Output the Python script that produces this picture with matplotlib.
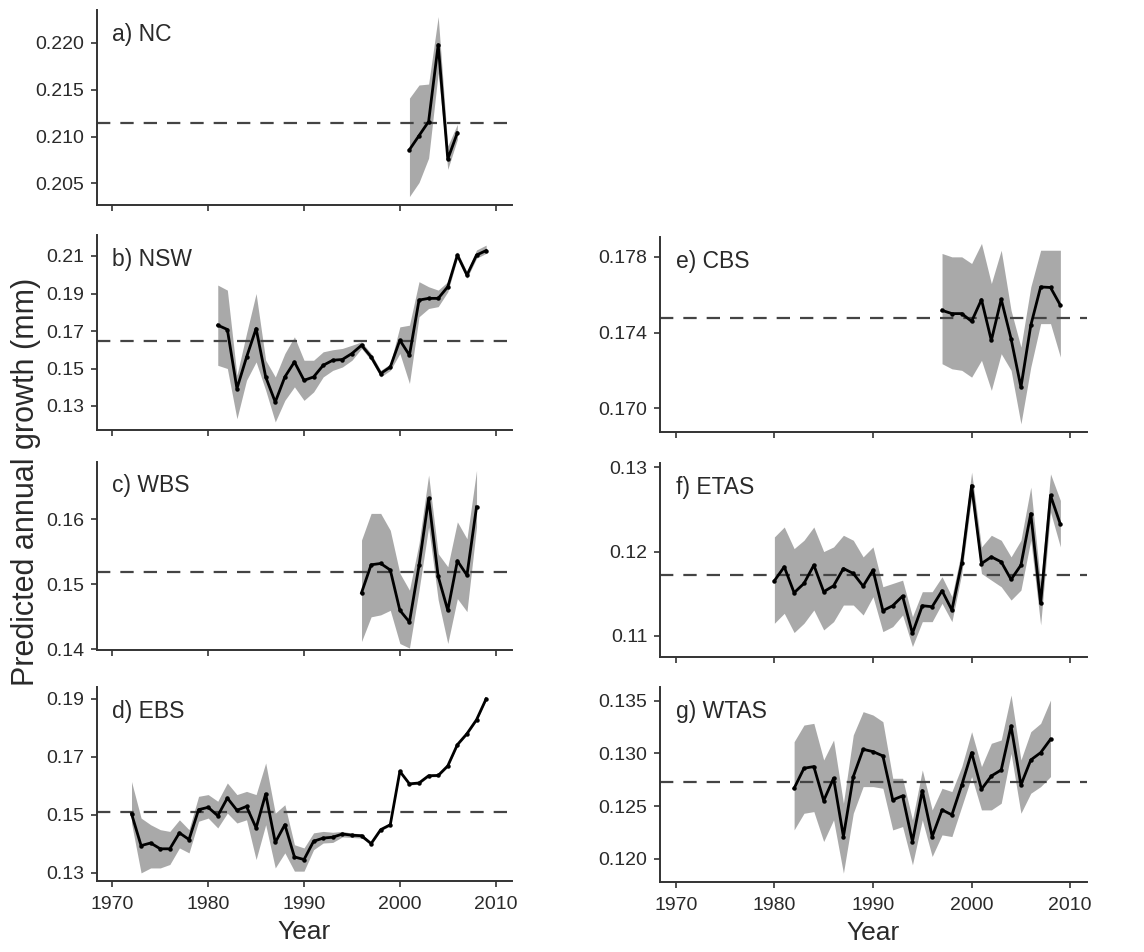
import matplotlib
matplotlib.use('Agg')
import matplotlib.pyplot as plt

plt.rcParams['font.family'] = ['Liberation Sans', 'DejaVu Sans']

# ---- data ----
nc_years = list(range(2001, 2007))
nc_growth = [0.2086, 0.2101, 0.2116, 0.2198, 0.2076, 0.2104]
nc_lower = [0.2036, 0.2051, 0.2077, 0.2168, 0.2065, 0.2097]
nc_upper = [0.2141, 0.2155, 0.2156, 0.2228, 0.2090, 0.2113]
nc_mean = 0.2114

nsw_years = list(range(1981, 2010))
nsw_growth = [0.1731, 0.1708, 0.1393, 0.1560, 0.1713, 0.1455, 0.1321, 0.1455,
              0.1535, 0.1437, 0.1455, 0.1517, 0.1544, 0.1548, 0.1580, 0.1624,
              0.1562, 0.1473, 0.1508, 0.1651, 0.1571, 0.1865, 0.1874, 0.1874,
              0.1936, 0.2105, 0.1998, 0.2105, 0.2129]
nsw_lower = [0.1517, 0.1500, 0.1232, 0.1437, 0.1535, 0.1384, 0.1215, 0.1330,
             0.1402, 0.1330, 0.1375, 0.1455, 0.1490, 0.1508, 0.1544, 0.1607,
             0.1544, 0.1455, 0.1490, 0.1580, 0.1420, 0.1776, 0.1820, 0.1830,
             0.1909, 0.2088, 0.1981, 0.2088, 0.2114]
nsw_upper = [0.1945, 0.1918, 0.1464, 0.1687, 0.1900, 0.1544, 0.1455, 0.1580,
             0.1669, 0.1544, 0.1544, 0.1589, 0.1600, 0.1607, 0.1624, 0.1642,
             0.1580, 0.1490, 0.1525, 0.1722, 0.1731, 0.1963, 0.1936, 0.1918,
             0.1963, 0.2122, 0.2016, 0.2132, 0.2158]
nsw_mean = 0.1645

wbs_years = list(range(1996, 2009))
wbs_growth = [0.1487, 0.1530, 0.1532, 0.1522, 0.1460, 0.1442, 0.1529, 0.1632,
              0.1512, 0.1460, 0.1536, 0.1514, 0.1619]
wbs_lower = [0.1412, 0.1450, 0.1453, 0.1460, 0.1409, 0.1402, 0.1491, 0.1588,
             0.1476, 0.1409, 0.1478, 0.1458, 0.1588]
wbs_upper = [0.1568, 0.1609, 0.1609, 0.1583, 0.1517, 0.1491, 0.1563, 0.1668,
             0.1547, 0.1527, 0.1596, 0.1570, 0.1675]
wbs_mean = 0.1519

ebs_years = list(range(1972, 2010))
ebs_growth = [0.1504, 0.1394, 0.1403, 0.1383, 0.1383, 0.1438, 0.1415, 0.1518,
              0.1526, 0.1497, 0.1558, 0.1516, 0.1529, 0.1455, 0.1572, 0.1405,
              0.1466, 0.1355, 0.1346, 0.1409, 0.1420, 0.1423, 0.1434, 0.1430,
              0.1428, 0.1401, 0.1449, 0.1466, 0.1650, 0.1607, 0.1610, 0.1635,
              0.1636, 0.1669, 0.1742, 0.1780, 0.1828, 0.1900]
ebs_lower = [0.1472, 0.1300, 0.1317, 0.1317, 0.1329, 0.1386, 0.1369, 0.1478,
             0.1489, 0.1455, 0.1506, 0.1472, 0.1483, 0.1346, 0.1466, 0.1317,
             0.1369, 0.1306, 0.1306, 0.1380, 0.1403, 0.1405, 0.1424, 0.1422,
             0.1420, 0.1397, 0.1445, 0.1462, 0.1646, 0.1603, 0.1606, 0.1631,
             0.1632, 0.1665, 0.1738, 0.1776, 0.1824, 0.1896]
ebs_upper = [0.1615, 0.1489, 0.1466, 0.1449, 0.1443, 0.1483, 0.1449, 0.1564,
             0.1570, 0.1547, 0.1610, 0.1570, 0.1581, 0.1570, 0.1679, 0.1506,
             0.1535, 0.1397, 0.1386, 0.1438, 0.1443, 0.1440, 0.1443, 0.1437,
             0.1435, 0.1405, 0.1453, 0.1470, 0.1654, 0.1611, 0.1614, 0.1639,
             0.1640, 0.1673, 0.1746, 0.1784, 0.1832, 0.1904]
ebs_mean = 0.1509

cbs_years = list(range(1997, 2010))
cbs_growth = [0.17517, 0.17500, 0.17500, 0.17459, 0.17574, 0.17358, 0.17576,
              0.17367, 0.17111, 0.17438, 0.17641, 0.17638, 0.17544]
cbs_lower = [0.17235, 0.17208, 0.17200, 0.17164, 0.17253, 0.17094, 0.17288,
             0.17200, 0.16917, 0.17217, 0.17447, 0.17447, 0.17270]
cbs_upper = [0.17818, 0.17800, 0.17800, 0.17765, 0.17871, 0.17659, 0.17835,
             0.17517, 0.17323, 0.17641, 0.17835, 0.17835, 0.17835]
cbs_mean = 0.17477

etas_years = list(range(1980, 2010))
etas_growth = [0.11654, 0.11819, 0.11512, 0.11622, 0.11839, 0.11524, 0.11594,
               0.11799, 0.11740, 0.11590, 0.11780, 0.11300, 0.11358, 0.11472,
               0.11031, 0.11358, 0.11346, 0.11535, 0.11307, 0.11866, 0.12783,
               0.11858, 0.11937, 0.11878, 0.11669, 0.11839, 0.12449, 0.11386,
               0.12665, 0.12323]
etas_lower = [0.11150, 0.11268, 0.11040, 0.11150, 0.11307, 0.11071, 0.11169,
              0.11366, 0.11366, 0.11248, 0.11465, 0.11051, 0.11110, 0.11248,
              0.10874, 0.11169, 0.11169, 0.11386, 0.11169, 0.11740, 0.12646,
              0.11740, 0.11661, 0.11583, 0.11425, 0.11543, 0.12134, 0.11130,
              0.12469, 0.12055]
etas_upper = [0.12173, 0.12291, 0.12035, 0.12134, 0.12291, 0.12000, 0.12055,
              0.12193, 0.12134, 0.11937, 0.12055, 0.11583, 0.11622, 0.11661,
              0.11228, 0.11524, 0.11524, 0.11701, 0.11465, 0.12016, 0.12941,
              0.12055, 0.12193, 0.12134, 0.11937, 0.12134, 0.12764, 0.11622,
              0.12921, 0.12606]
etas_mean = 0.1172

wtas_years = list(range(1982, 2009))
wtas_growth = [0.12669, 0.12859, 0.12875, 0.12552, 0.12764, 0.12211, 0.12780,
               0.13039, 0.13017, 0.12976, 0.12559, 0.12597, 0.12164, 0.12647,
               0.12211, 0.12464, 0.12417, 0.12701, 0.13007, 0.12660, 0.12786,
               0.12843, 0.13260, 0.12701, 0.12938, 0.13007, 0.13134]
wtas_lower = [0.12274, 0.12432, 0.12448, 0.12164, 0.12369, 0.11864, 0.12432,
              0.12685, 0.12685, 0.12669, 0.12274, 0.12306, 0.11943, 0.12369,
              0.12022, 0.12227, 0.12211, 0.12496, 0.12780, 0.12464, 0.12464,
              0.12527, 0.13000, 0.12432, 0.12622, 0.12685, 0.12780]
wtas_upper = [0.13111, 0.13269, 0.13285, 0.12938, 0.13127, 0.12527, 0.13175,
              0.13396, 0.13364, 0.13301, 0.12764, 0.12764, 0.12369, 0.12843,
              0.12464, 0.12669, 0.12638, 0.12875, 0.13206, 0.12875, 0.13096,
              0.13127, 0.13554, 0.12938, 0.13206, 0.13285, 0.13506]
wtas_mean = 0.12726

year_ticks = [1970, 1980, 1990, 2000, 2010]

TEXT = '#2a2a2a'
BAND = '#a9a9a9'


def do_panel(axis, years, growth, lower, upper, mean, label, yticks, ylim,
             fmt, show_year=False):
    """Draw one region: confidence band, yearly growth and long-term mean."""
    axis.fill_between(years, lower, upper, color=BAND, lw=0)
    axis.axhline(mean, color='#444444', lw=1.6, dashes=(6, 4.5))
    axis.plot(years, growth, color='black', lw=2.0,
              marker='o', markersize=2.2)

    axis.set_xlim(1968.4, 2011.7)
    axis.set_ylim(*ylim)
    axis.set_xticks(year_ticks)
    axis.set_yticks(yticks)
    axis.set_yticklabels([fmt % v for v in yticks])
    if show_year:
        axis.set_xlabel('Year', fontsize=19, color=TEXT, labelpad=5)
    else:
        axis.set_xticklabels([])

    for side in ['top', 'right']:
        axis.spines[side].set_visible(False)
    for side in ['left', 'bottom']:
        axis.spines[side].set_color('#333333')
        axis.spines[side].set_linewidth(1.4)
    axis.tick_params(direction='out', length=4, width=1.2, colors='#333333',
                     labelsize=14, labelcolor=TEXT, pad=5)
    axis.tick_params(axis='x', pad=7)
    axis.text(0.037, 0.84, label, transform=axis.transAxes, fontsize=16.5,
              color=TEXT, va='baseline', ha='left')
    return axis


fig = plt.figure(figsize=(11.44, 9.52), dpi=100)

W, H = 1144.0, 952.0
# pixel boxes (left, top, right, bottom) of each panel
boxes = {
    'a': (97, 10, 512, 205),
    'b': (97, 235, 512, 430),
    'c': (97, 462, 512, 650),
    'd': (97, 687, 512, 881),
    'e': (660, 237, 1087, 432),
    'f': (660, 463, 1087, 657),
    'g': (660, 687, 1087, 882),
}


def add_axes(key):
    l, t, r, b = boxes[key]
    return fig.add_axes([l / W, 1 - b / H, (r - l) / W, (b - t) / H])


do_panel(add_axes('a'), nc_years, nc_growth, nc_lower, nc_upper, nc_mean,
         'a) NC', [0.205, 0.210, 0.215, 0.220], (0.2027, 0.2235), '%.3f')
do_panel(add_axes('b'), nsw_years, nsw_growth, nsw_lower, nsw_upper, nsw_mean,
         'b) NSW', [0.13, 0.15, 0.17, 0.19, 0.21], (0.1172, 0.2212), '%.2f')
do_panel(add_axes('c'), wbs_years, wbs_growth, wbs_lower, wbs_upper, wbs_mean,
         'c) WBS', [0.14, 0.15, 0.16], (0.1399, 0.1688), '%.2f')
do_panel(add_axes('d'), ebs_years, ebs_growth, ebs_lower, ebs_upper, ebs_mean,
         'd) EBS', [0.13, 0.15, 0.17, 0.19], (0.1272, 0.1941), '%.2f',
         show_year=True)
do_panel(add_axes('e'), cbs_years, cbs_growth, cbs_lower, cbs_upper, cbs_mean,
         'e) CBS', [0.170, 0.174, 0.178], (0.16874, 0.17905), '%.3f')
do_panel(add_axes('f'), etas_years, etas_growth, etas_lower, etas_upper,
         etas_mean, 'f) ETAS', [0.11, 0.12, 0.13], (0.1075, 0.1305), '%.2f')
do_panel(add_axes('g'), wtas_years, wtas_growth, wtas_lower, wtas_upper,
         wtas_mean, 'g) WTAS', [0.120, 0.125, 0.130, 0.135], (0.1178, 0.1363),
         '%.3f', show_year=True)

fig.text(26 / W, 1 - 482 / H, 'Predicted annual growth (mm)', rotation=90,
         fontsize=22, color=TEXT, ha='center', va='center')

fig.savefig('out.png', dpi=100)
